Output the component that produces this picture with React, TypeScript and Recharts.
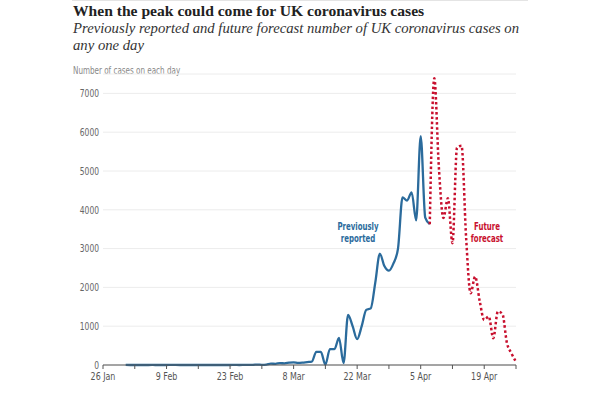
import React from "react"
import { LineChart, Line, XAxis, YAxis, CartesianGrid } from "recharts"

// day 0 = 26 Jan 2020
const reportedDays = [
  5, 6, 7, 8, 9, 10, 11, 12, 13, 14, 15, 16, 17, 18, 19, 20, 21, 22, 23, 24, 25, 26, 27, 28, 29, 30,
  31, 32, 33, 34, 35, 36, 37, 38, 39, 40, 41, 42, 43, 44, 45, 46, 47, 48, 49, 50, 51, 52, 53, 54, 55,
  56, 57, 58, 59, 60, 61, 62, 63, 64, 65, 66, 67, 68, 69, 70, 71, 72,
]
const reportedCases = [
  2, 0, 0, 0, 0, 0, 1, 0, 0, 0, 4, 1, 0, 0, 0, 0, 0, 0, 0, 0, 0, 0, 0, 0, 4, 0,
  2, 5, 3, 12, 4, 11, 34, 30, 48, 43, 60, 70, 55, 62, 75, 85, 340, 340, 10, 410, 410, 700, 50, 1290, 1000,
  665, 1000, 1420, 1460, 2130, 2870, 2550, 2430, 2620, 3000, 4320, 4240, 4450, 3730, 5900, 3800, 3630,
]

const forecastDays = [72, 73, 74, 75, 76, 77, 78, 79, 80, 81, 82, 83, 84, 85, 86, 87, 88, 89, 90, 91]
const forecastCases = [
  3630, 7390, 5100, 3790, 4300, 3140, 5600, 5650, 3300, 1850, 2280, 1650, 1160, 1250, 690, 1380, 1320,
  570, 300, 80,
]

const xTicks = [0, 7, 14, 21, 28, 35, 42, 49, 56, 63, 70, 77, 84, 91]
const xTickLabels = ["26 Jan", "", "9 Feb", "", "23 Feb", "", "8 Mar", "", "22 Mar", "", "5 Apr", "", "19 Apr", ""]
const yTicks = [0, 1000, 2000, 3000, 4000, 5000, 6000, 7000]

const BLUE = "#2b6b9c"
const RED = "#c8102e"
const SANS = '"Liberation Sans Narrow", "DejaVu Sans Condensed", Roboto, sans-serif'
const SERIF = '"Liberation Serif", "DejaVu Serif", serif'
const SQUEEZE = 0.8

const allDays = Array.from(new Set([...reportedDays, ...forecastDays])).sort((a, b) => a - b)
const data = allDays.map((day) => {
  const ri = reportedDays.indexOf(day)
  const fi = forecastDays.indexOf(day)
  return {
    day,
    reported: ri >= 0 ? reportedCases[ri] : undefined,
    forecast: fi >= 0 ? forecastCases[fi] : undefined,
  }
})

function XTick({ x, y, index }: any) {
  const label = xTickLabels[index]
  if (!label) return null
  return (
    <g transform={`translate(${x},${y})`}>
      <text
        transform={`scale(${SQUEEZE},1)`}
        textAnchor="middle"
        dy="0.71em"
        fill="#555"
        fontSize={11}
        fontFamily={SANS}
      >
        {label}
      </text>
    </g>
  )
}

function YTick({ x, y, payload }: any) {
  return (
    <g transform={`translate(${x},${y})`}>
      <text
        transform={`scale(${SQUEEZE},1)`}
        textAnchor="end"
        dy="0.355em"
        fill="#666"
        fontSize={10.5}
        fontFamily={SANS}
      >
        {payload.value}
      </text>
    </g>
  )
}

const noteStyle: React.CSSProperties = {
  position: "absolute",
  top: 220,
  width: 100,
  textAlign: "center",
  fontFamily: SANS,
  fontWeight: 700,
  fontSize: 10.5,
  lineHeight: "12px",
  transform: "scaleX(0.74)",
}

export default function App() {
  return (
    <div style={{ position: "absolute", left: 0, top: 0, width: 600, height: 398, background: "#fff" }}>
      <div style={{ position: "absolute", left: 72, top: 0, width: 456, height: 1, background: "#e4e4e4" }} />
      <div
        style={{
          position: "absolute",
          left: 73,
          top: 2,
          fontFamily: SERIF,
          fontWeight: 700,
          fontSize: 15.6,
          color: "#222",
          whiteSpace: "nowrap",
        }}
      >
        When the peak could come for UK coronavirus cases
      </div>
      <div
        style={{
          position: "absolute",
          left: 73,
          top: 20,
          fontFamily: SERIF,
          fontStyle: "italic",
          fontSize: 14.7,
          lineHeight: "17px",
          color: "#333",
          whiteSpace: "nowrap",
        }}
      >
        Previously reported and future forecast number of UK coronavirus cases on
        <br />
        any one day
      </div>
      <div
        style={{
          position: "absolute",
          left: 73,
          top: 65,
          fontFamily: SANS,
          fontSize: 10,
          color: "#888",
          whiteSpace: "nowrap",
          transform: `scaleX(${SQUEEZE})`,
          transformOrigin: "left center",
        }}
      >
        Number of cases on each day
      </div>

      <LineChart width={600} height={398} data={data} margin={{ top: 74, right: 84, bottom: 3, left: 63 }}>
        <CartesianGrid vertical={false} stroke="#ececec" />
        <XAxis
          dataKey="day"
          type="number"
          domain={[0, 91]}
          ticks={xTicks}
          interval={0}
          height={30}
          stroke="#555"
          tickSize={4}
          tickMargin={3}
          tick={<XTick />}
        />
        <YAxis
          type="number"
          domain={[0, 7500]}
          ticks={yTicks}
          width={40}
          axisLine={false}
          tickLine={false}
          tickSize={0}
          tickMargin={4}
          tick={<YTick />}
        />
        <Line
          type="monotone"
          dataKey="reported"
          stroke={BLUE}
          strokeWidth={2.3}
          dot={false}
          isAnimationActive={false}
        />
        <Line
          type="monotone"
          dataKey="forecast"
          stroke={RED}
          strokeWidth={2.5}
          strokeDasharray="2.5 2.5"
          dot={false}
          isAnimationActive={false}
        />
      </LineChart>

      <div style={{ ...noteStyle, left: 308, color: BLUE }}>
        Previously
        <br />
        reported
      </div>
      <div style={{ ...noteStyle, left: 437, color: RED }}>
        Future
        <br />
        forecast
      </div>
    </div>
  )
}
